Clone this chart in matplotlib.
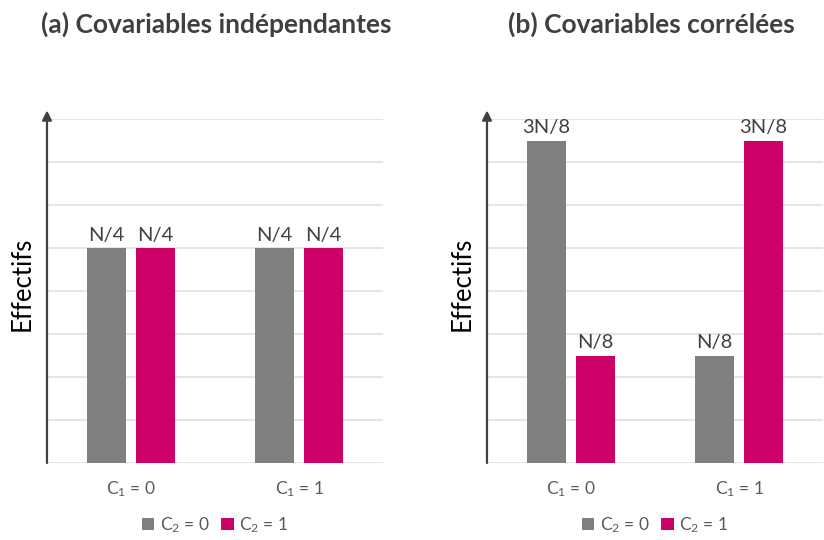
import matplotlib
matplotlib.use("Agg")
import matplotlib.pyplot as plt
import numpy as np

plt.rcParams['font.family'] = ['Lato', 'DejaVu Sans']
plt.rcParams['mathtext.default'] = 'regular'

# ---- data ----
categories = ["C$_1$ = 0", "C$_1$ = 1"]
series_names = ["C$_2$ = 0", "C$_2$ = 1"]
titles = ["(a) Covariables indépendantes", "(b) Covariables corrélées"]

# fraction of N
indep_c2_0 = [0.25, 0.25]
indep_c2_1 = [0.25, 0.25]
indep_labels_0 = ["N/4", "N/4"]
indep_labels_1 = ["N/4", "N/4"]

corr_c2_0 = [0.375, 0.125]
corr_c2_1 = [0.125, 0.375]
corr_labels_0 = ["3N/8", "N/8"]
corr_labels_1 = ["N/8", "3N/8"]

grid_ticks = [0, 0.05, 0.10, 0.15, 0.20, 0.25, 0.30, 0.35, 0.40]

colors = ["#7f7f7f", "#cc0066"]

fig = plt.figure(figsize=(8.24, 5.40), dpi=100)
W, H = 824, 540
panels = [
    (47, (indep_c2_0, indep_c2_1), (indep_labels_0, indep_labels_1), titles[0], 216),
    (487, (corr_c2_0, corr_c2_1), (corr_labels_0, corr_labels_1), titles[1], 651),
]

for x0, vals, labs, title, tx in panels:
    ax = fig.add_axes([x0 / W, (H - 463) / H, 336 / W, 344 / H])
    x = np.arange(len(categories))
    offsets = [-0.145, 0.145]
    width = 0.232
    for i in range(2):
        bars = ax.bar(x + offsets[i], vals[i], width=width, color=colors[i],
                      label=series_names[i], zorder=3)
        for b, t in zip(bars, labs[i]):
            ax.annotate(t, (b.get_x() + b.get_width() / 2, b.get_height()),
                        xytext=(0, 3), textcoords="offset points",
                        ha="center", va="bottom", fontsize=14.5, color="#404040")
    ax.set_xlim(-0.5, 1.5)
    ax.set_ylim(0, 0.40)
    ax.set_yticks(grid_ticks)
    ax.yaxis.grid(True, color="#e0e0e0", lw=1.2, zorder=0)
    ax.set_yticklabels([])
    ax.tick_params(axis="y", length=0)
    ax.set_xticks(x)
    ax.set_xticklabels(categories, fontsize=12.5, color="#595959")
    ax.tick_params(axis="x", length=0, pad=12)
    for s in ax.spines.values():
        s.set_visible(False)
    ax.annotate("", xy=(0, 1.025), xycoords="axes fraction",
                xytext=(0, 0), textcoords="axes fraction",
                arrowprops=dict(arrowstyle="-|>", color="#404040", lw=1.6,
                                mutation_scale=14, shrinkA=0, shrinkB=0),
                annotation_clip=False)
    ax.set_ylabel("Effectifs", fontsize=18.5, color="black")
    ax.yaxis.set_label_coords(-0.038, 0.52)
    fig.text(tx / W, 1 - 24 / H, title, fontsize=19, fontweight="bold",
             color="#404040", ha="center", va="center")
    ax.legend(loc="center", bbox_to_anchor=(0.5, -0.18), ncol=2, frameon=False,
              fontsize=12.5, handlelength=0.7, handleheight=0.7,
              handletextpad=0.3, columnspacing=0.7, labelcolor="#595959")
    ax.set_facecolor("white")

fig.savefig("out.png", dpi=100)
